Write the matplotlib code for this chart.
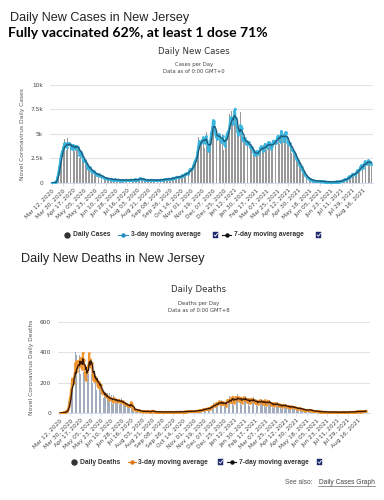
import numpy as np
import pandas as pd
import matplotlib
matplotlib.use('Agg')
import matplotlib.pyplot as plt
from matplotlib.patches import Rectangle
from matplotlib.lines import Line2D

start_date = '2020-03-12'

cases = [
    10, 20, 30, 40, 70, 100, 160, 320, 600, 900, 1300, 1600, 2000, 2500,
    2900, 3300, 3100, 3400, 3600, 4100, 3700, 4500, 3900, 3600, 3400, 4000, 4600, 3700,
    3800, 4300, 3900, 3500, 3200, 3800, 4100, 3600, 3900, 3400, 3300, 3700, 4200, 3500,
    3600, 3900, 3300, 2800, 2600, 3300, 3400, 2900, 2700, 2300, 1900, 2400, 2500, 2200,
    2100, 1900, 1700, 1400, 1300, 1800, 1600, 1500, 1400, 1200, 1000, 1100, 1300, 1200,
    1100, 1000, 900, 800, 700, 950, 1000, 900, 800, 700, 600, 750, 800, 700,
    650, 600, 550, 450, 400, 550, 500, 480, 450, 400, 350, 450, 450, 420,
    400, 380, 340, 300, 280, 400, 380, 360, 340, 300, 260, 370, 360, 340,
    330, 310, 270, 250, 240, 350, 330, 320, 300, 280, 250, 340, 330, 310,
    330, 320, 290, 260, 250, 370, 360, 340, 330, 300, 270, 380, 370, 350,
    360, 340, 320, 300, 280, 500, 480, 460, 450, 420, 380, 400, 380, 360,
    340, 330, 300, 280, 260, 350, 330, 320, 300, 280, 250, 340, 330, 320,
    310, 300, 280, 260, 240, 330, 320, 310, 300, 280, 260, 350, 340, 330,
    350, 340, 320, 300, 290, 400, 420, 400, 410, 380, 350, 450, 460, 440,
    450, 440, 420, 400, 380, 520, 540, 560, 550, 520, 480, 620, 640, 620,
    650, 660, 620, 580, 560, 720, 750, 780, 800, 760, 700, 900, 950, 920,
    1000, 1050, 1000, 950, 900, 1300, 1400, 1450, 1500, 1400, 1300, 1700, 1800, 1900,
    2100, 2300, 2500, 2400, 2600, 3400, 3600, 4000, 4700, 4200, 3800, 4000, 4500, 4200,
    4500, 4800, 4700, 4100, 3600, 4500, 4700, 5200, 3000, 3200, 3600, 3300, 4100, 4900,
    5100, 5400, 5600, 6100, 7500, 5500, 5300, 5100, 4600, 4400, 4900, 4300, 5100, 5200,
    4800, 4700, 4300, 4200, 4000, 4800, 5000, 4500, 3400, 3900, 4100, 4700, 5100, 5000,
    5300, 5400, 5100, 6200, 7000, 6800, 6100, 7300, 6200, 6100, 5700, 9000, 7400, 6400,
    6100, 5800, 5200, 4900, 4700, 5600, 5400, 5100, 7200, 5000, 4500, 4300, 4200, 4700,
    4600, 4400, 4200, 3900, 3800, 4100, 4400, 4200, 3900, 3700, 3400, 3800, 3600, 3500,
    3400, 3200, 3000, 2800, 2700, 3100, 3300, 3300, 3100, 3000, 2800, 3400, 3600, 3700,
    3800, 3700, 3400, 3200, 3100, 3900, 4000, 4100, 3800, 3600, 3400, 4000, 4200, 4200,
    4100, 3900, 3600, 3400, 3500, 4300, 4400, 4200, 4400, 4000, 3700, 4400, 4600, 4700,
    4800, 5000, 4500, 4200, 4000, 5600, 5400, 5000, 4700, 4300, 4000, 4700, 5000, 5600,
    5000, 4600, 4200, 3900, 3700, 4300, 4100, 3900, 3600, 3400, 3100, 3500, 3300, 3100,
    3000, 2900, 2700, 2400, 2200, 2500, 2200, 2000, 1900, 1700, 1500, 2100, 1400, 1300,
    1200, 1100, 1000, 900, 700, 750, 700, 600, 550, 500, 400, 420, 380, 350,
    330, 300, 280, 250, 200, 260, 250, 230, 220, 200, 180, 210, 200, 190,
    180, 170, 160, 150, 140, 170, 160, 150, 150, 140, 120, 150, 140, 140,
    130, 130, 120, 110, 100, 140, 130, 130, 120, 120, 100, 140, 140, 150,
    150, 160, 140, 120, 110, 180, 200, 220, 230, 220, 200, 300, 320, 350,
    400, 420, 380, 350, 330, 500, 600, 650, 700, 650, 600, 800, 850, 900,
    950, 1000, 900, 850, 800, 1100, 1200, 1300, 1350, 1250, 1150, 1500, 1600, 1700,
    1800, 1900, 1700, 1500, 1400, 2600, 2100, 2000, 2100, 1900, 1700, 2500, 2300, 2200,
    2200, 2100, 1900, 1700, 2100,
]

deaths = [
    0, 1, 0, 1, 2, 3, 5, 4, 7, 6, 11, 17, 17, 17,
    40, 80, 60, 150, 100, 200, 180, 300, 200, 140, 250, 350, 230, 400,
    250, 380, 200, 330, 420, 230, 380, 450, 260, 220, 400, 310, 480, 270,
    300, 250, 200, 210, 380, 230, 300, 400, 260, 520, 280, 230, 420, 260,
    300, 200, 180, 260, 300, 160, 260, 220, 150, 240, 130, 260, 150, 200,
    150, 200, 120, 90, 180, 120, 100, 160, 110, 80, 140, 120, 70, 130,
    100, 90, 60, 130, 95, 70, 120, 90, 60, 75, 120, 95, 65, 90,
    90, 85, 55, 80, 110, 75, 60, 95, 70, 50, 100, 75, 55, 70,
    70, 60, 40, 55, 75, 50, 40, 55, 45, 30, 60, 45, 105, 35,
    30, 25, 15, 35, 28, 18, 14, 28, 20, 12, 24, 18, 12, 14,
    15, 12, 8, 16, 12, 10, 6, 15, 12, 8, 9, 14, 11, 8,
    12, 10, 6, 13, 10, 9, 5, 30, 10, 7, 7, 11, 9, 6,
    9, 8, 5, 10, 8, 7, 4, 11, 9, 6, 5, 10, 8, 6,
    8, 7, 5, 10, 8, 7, 4, 11, 8, 6, 5, 10, 8, 6,
    8, 7, 5, 10, 8, 7, 5, 11, 9, 6, 5, 11, 9, 7,
    9, 8, 6, 11, 9, 8, 6, 12, 10, 8, 7, 13, 11, 9,
    12, 11, 8, 14, 12, 10, 8, 15, 13, 11, 9, 17, 15, 13,
    16, 15, 11, 20, 17, 14, 12, 24, 20, 16, 14, 28, 25, 20,
    28, 26, 18, 35, 30, 24, 20, 40, 38, 26, 24, 48, 42, 35,
    48, 55, 34, 64, 62, 46, 38, 75, 75, 50, 44, 90, 80, 58,
    75, 60, 40, 85, 85, 50, 42, 100, 60, 40, 46, 95, 95, 64,
    100, 65, 44, 115, 105, 70, 52, 170, 90, 60, 52, 105, 95, 72,
    150, 85, 52, 125, 110, 75, 52, 145, 95, 60, 52, 125, 105, 68,
    135, 80, 48, 115, 100, 66, 48, 135, 85, 56, 48, 115, 95, 64,
    125, 75, 44, 105, 90, 60, 44, 120, 75, 50, 44, 100, 85, 55,
    110, 70, 40, 95, 80, 55, 40, 135, 70, 46, 40, 90, 75, 50,
    120, 65, 36, 85, 70, 46, 35, 95, 60, 40, 35, 80, 65, 45,
    80, 55, 30, 70, 60, 42, 30, 80, 55, 32, 27, 70, 55, 40,
    65, 50, 26, 60, 50, 36, 26, 65, 45, 27, 24, 58, 45, 32,
    50, 40, 24, 48, 40, 30, 22, 48, 35, 22, 18, 42, 32, 25,
    35, 28, 17, 32, 28, 20, 14, 30, 22, 14, 12, 26, 20, 14,
    28, 22, 13, 26, 20, 14, 10, 22, 16, 10, 9, 16, 14, 10,
    15, 12, 7, 13, 10, 7, 6, 13, 10, 7, 5, 11, 9, 6,
    10, 8, 5, 10, 8, 5, 4, 10, 8, 5, 4, 9, 7, 5,
    8, 6, 4, 9, 7, 4, 3, 9, 7, 4, 3, 8, 6, 4,
    7, 6, 3, 9, 7, 4, 3, 9, 7, 4, 3, 9, 7, 5,
    8, 7, 4, 10, 8, 5, 4, 11, 9, 6, 5, 12, 10, 7,
    11, 10, 7, 13, 11, 8, 6, 14, 12, 9, 7, 15, 13, 10,
    12, 11, 8, 22, 14,
]

tick_labels = [
    'Mar 12, 2020', 'Mar 30, 2020', 'Apr 17, 2020', 'May 05, 2020', 'May 23, 2020',
    'Jun 10, 2020', 'Jun 28, 2020', 'Jul 16, 2020', 'Aug 03, 2020', 'Aug 21, 2020',
    'Sep 08, 2020', 'Sep 26, 2020', 'Oct 14, 2020', 'Nov 01, 2020', 'Nov 19, 2020',
    'Dec 07, 2020', 'Dec 25, 2020', 'Jan 12, 2021', 'Jan 30, 2021', 'Feb 17, 2021',
    'Mar 07, 2021', 'Mar 25, 2021', 'Apr 12, 2021', 'Apr 30, 2021', 'May 18, 2021',
    'Jun 05, 2021', 'Jun 23, 2021', 'Jul 11, 2021', 'Jul 29, 2021', 'Aug 16, 2021',
]
tick_step = 18

case_yticks = [0, 2500, 5000, 7500, 10000]
case_yticklabels = ['0', '2.5k', '5k', '7.5k', '10k']
death_yticks = [0, 200, 400, 600]
death_yticklabels = ['0', '200', '400', '600']

# ------------------------------------------------------------------
W, H = 384, 500
fig = plt.figure(figsize=(W / 100, H / 100), dpi=100, facecolor='white')


def fx(x):
    return x / W


def fy(y):
    return 1 - y / H


def style_axes(ax, yticks, yticklabels, ylim, xlim):
    x_idx = np.arange(0, tick_step * len(tick_labels), tick_step)
    ax.set_xlim(*xlim)
    ax.set_ylim(*ylim)
    ax.set_yticks(yticks)
    ax.set_yticklabels(yticklabels)
    ax.set_xticks(x_idx)
    ax.set_xticklabels(tick_labels, rotation=45, ha='right', rotation_mode='anchor')
    for s in ['top', 'right', 'left']:
        ax.spines[s].set_visible(False)
    ax.spines['bottom'].set_color('#ccd6eb')
    ax.spines['bottom'].set_linewidth(0.6)
    ax.grid(axis='y', color='#e3e3e3', lw=0.8)
    ax.set_axisbelow(True)
    ax.tick_params(axis='y', length=0, labelsize=4.2, labelcolor='#444444', pad=5)
    ax.tick_params(axis='x', length=2, width=0.5, color='#ccd6eb', labelsize=4.2,
                   labelcolor='#444444', pad=1.5)


# ---------------- Cases chart ----------------
ax1 = fig.add_axes([fx(50), fy(183), fx(373) - fx(50), (183 - 85) / H])
c = pd.Series(cases, dtype=float)
xi = np.arange(len(c))
ax1.bar(xi, c, width=0.6, color='#999999', zorder=2)
ax1.plot(xi, c.rolling(3, min_periods=1).mean(), color='#38b6e0', lw=1.3,
         marker='o', ms=0.9, zorder=3)
ax1.plot(xi, c.rolling(7, min_periods=1).mean(), color='#1d5c7c', lw=1.0, zorder=4)
style_axes(ax1, case_yticks, case_yticklabels, (0, 10000), (-3.4, 538.6))
ax1.set_ylabel('Novel Coronavirus Daily Cases', fontsize=4.3, color='#555555', labelpad=4)

# ---------------- Deaths chart ----------------
ax2 = fig.add_axes([fx(58), fy(413), fx(370) - fx(58), (413 - 322) / H])
d = pd.Series(deaths, dtype=float)
xd = np.arange(len(d))
ax2.bar(xd, d, width=0.6, color='#a3acbc', zorder=2)
ax2.plot(xd, d.rolling(3, min_periods=1).mean(), color='#f0952e', lw=1.3,
         marker='o', ms=0.9, zorder=3)
ax2.plot(xd, d.rolling(7, min_periods=1).mean(), color='#3b1a05', lw=1.0, zorder=4)
style_axes(ax2, death_yticks, death_yticklabels, (0, 600), (-3.5, 543))
ax2.set_ylabel('Novel Coronavirus Daily Deaths', fontsize=4.3, color='#555555', labelpad=4)

# ---------------- Headings ----------------
fig.text(fx(10), fy(18), 'Daily New Cases in New Jersey', fontsize=9.1,
         family='Liberation Sans', color='#222222', va='center', ha='left')
fig.text(fx(8), fy(33), 'Fully vaccinated 62%, at least 1 dose 71%', fontsize=10.1,
         family='Lato', weight='bold', color='black', va='center', ha='left')
fig.text(fx(194), fy(52), 'Daily New Cases', fontsize=6.2, color='#333333',
         va='center', ha='center')
fig.text(fx(194), fy(64.5), 'Cases per Day', fontsize=3.8, color='#444444',
         va='center', ha='center')
fig.text(fx(194), fy(71.5), 'Data as of 0:00 GMT+0', fontsize=3.8, color='#444444',
         va='center', ha='center')

fig.text(fx(21), fy(259), 'Daily New Deaths in New Jersey', fontsize=9.1,
         family='Liberation Sans', color='#222222', va='center', ha='left')
fig.text(fx(199), fy(289), 'Daily Deaths', fontsize=6.2, color='#333333',
         va='center', ha='center')
fig.text(fx(199), fy(303), 'Deaths per Day', fontsize=3.8, color='#444444',
         va='center', ha='center')
fig.text(fx(199), fy(310.5), 'Data as of 0:00 GMT+8', fontsize=3.8, color='#444444',
         va='center', ha='center')


# ---------------- Legends ----------------
def checkbox(x, y):
    fig.add_artist(Rectangle((fx(x), fy(y + 2.7)), 5.4 / W, 5.4 / H,
                             facecolor='#1f2a6e', edgecolor='#1f2a6e',
                             transform=fig.transFigure, lw=0.3))
    fig.add_artist(Line2D([fx(x + 1.2), fx(x + 2.4), fx(x + 4.4)],
                          [fy(y), fy(y + 1.3), fy(y - 1.6)], color='white', lw=0.6,
                          transform=fig.transFigure))


def line_sym(x0, x1, y, color):
    fig.add_artist(Line2D([fx(x0), fx(x1)], [fy(y), fy(y)], color=color, lw=0.8,
                          transform=fig.transFigure))
    fig.add_artist(Line2D([fx((x0 + x1) / 2)], [fy(y)], marker='o', ms=2.2, color=color,
                          transform=fig.transFigure))


leg_kw = dict(fontsize=4.8, weight='bold', color='#333333', va='center', ha='left',
              family='Liberation Sans')
ly = 235
fig.add_artist(Line2D([fx(67)], [fy(ly)], marker='o', ms=3.6, color='#333333',
                      transform=fig.transFigure))
fig.text(fx(73), fy(ly), 'Daily Cases', **leg_kw)
line_sym(118, 128, ly, '#2a8fc0')
fig.text(fx(131), fy(ly), '3-day moving average', **leg_kw)
checkbox(213, ly)
line_sym(222, 231, ly, '#111111')
fig.text(fx(234), fy(ly), '7-day moving average', **leg_kw)
checkbox(316, ly)

ly = 462
fig.add_artist(Line2D([fx(74)], [fy(ly)], marker='o', ms=3.6, color='#333333',
                      transform=fig.transFigure))
fig.text(fx(80), fy(ly), 'Daily Deaths', **leg_kw)
line_sym(128, 136, ly, '#e07a1f')
fig.text(fx(138), fy(ly), '3-day moving average', **leg_kw)
checkbox(218, ly)
line_sym(227, 236, ly, '#111111')
fig.text(fx(239), fy(ly), '7-day moving average', **leg_kw)
checkbox(317, ly)

# See also
fig.text(fx(285), fy(482), 'See also: ', fontsize=4.8, color='#555555',
         va='center', ha='left', family='Liberation Sans')
fig.text(fx(375), fy(482), 'Daily Cases Graph', fontsize=4.8, color='#444444',
         va='center', ha='right', family='Liberation Sans')
fig.add_artist(Line2D([fx(318), fx(375)], [fy(485.5), fy(485.5)], color='#444444', lw=0.4,
                      transform=fig.transFigure))

fig.savefig('out.png', dpi=100, facecolor='white')
